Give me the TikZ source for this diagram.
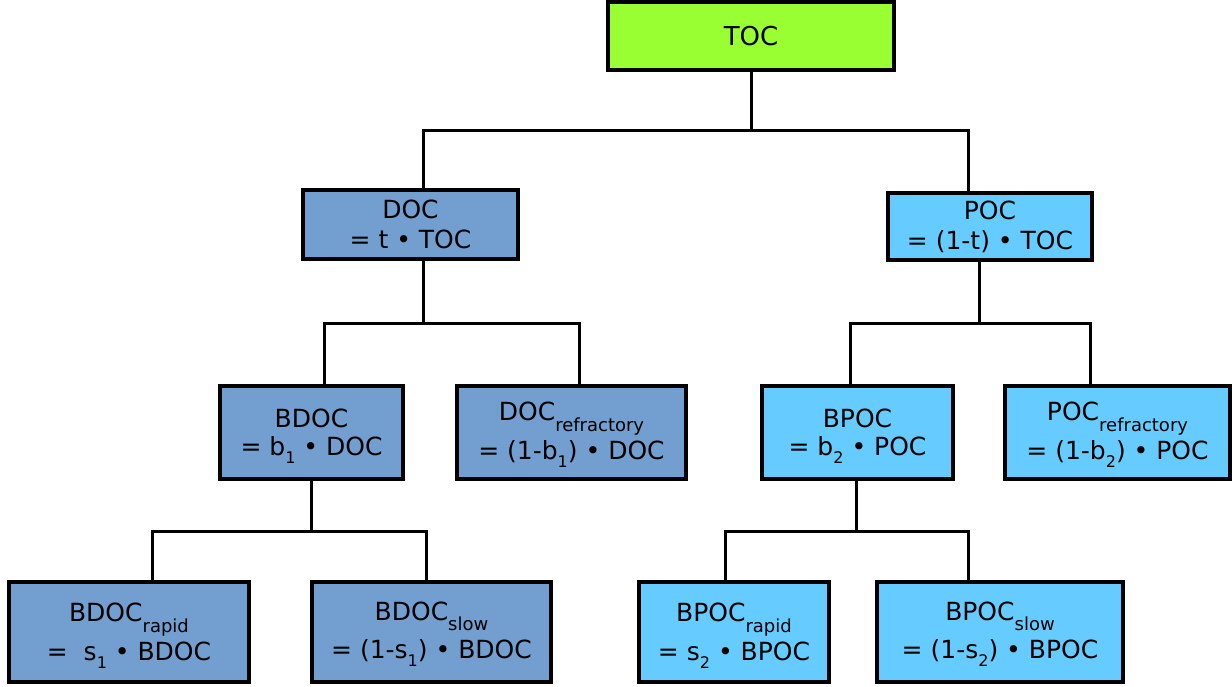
\documentclass[tikz,border=0pt]{standalone}
\usepackage{fontspec}
\setmainfont{DejaVu Sans}
\definecolor{tocgreen}{HTML}{99FF33}
\definecolor{docblue}{HTML}{729FCF}
\definecolor{pocblue}{HTML}{66CCFF}
\newcommand\lsub[1]{\smash{\raisebox{-10.5pt}{\fontsize{18}{18}\selectfont #1}}}
\newcommand\dsub[1]{\smash{\raisebox{-8pt}{\fontsize{16}{16}\selectfont #1}}}
\begin{document}
\begin{tikzpicture}[x=1pt,y=-1pt,
  box/.style={draw=black, line width=3.4pt, align=center, inner sep=0pt,
    font=\fontsize{25}{30}\selectfont},
  tocbox/.style={box, fill=tocgreen, font=\fontsize{26}{30}\selectfont},
  docbox/.style={box, fill=docblue},
  pocbox/.style={box, fill=pocblue},
  tight/.style={font=\fontsize{25}{28.5}\selectfont},
  loose/.style={font=\fontsize{25}{38.5}\selectfont},
  link/.style={draw=black, line width=3pt}]
\useasboundingbox (0,0) rectangle (1232,686);
\fill[white] (0,0) rectangle (1232,686);

\node[tocbox, minimum width=286pt, minimum height=68pt] (toc) at (751,36) {TOC};

\node[docbox, minimum width=215pt, minimum height=69pt] (doc) at (410.5,224.5) {DOC\\= t • TOC};
\node[pocbox, minimum width=204pt, minimum height=67pt] (poc) at (990,226.5) {POC\\= (1-t) • TOC};

\node[docbox, tight, minimum width=183pt, minimum height=93pt] (bdoc) at (311.5,432.5) {BDOC\\= b\dsub{1} • DOC};
\node[docbox, loose, minimum width=229pt, minimum height=93pt] (docr) at (571.5,432.5) {DOC\lsub{refractory}\\= (1-b\dsub{1}) • DOC};
\node[pocbox, tight, minimum width=191pt, minimum height=93pt] (bpoc) at (857.5,432.5) {BPOC\\= b\dsub{2} • POC};
\node[pocbox, loose, minimum width=225pt, minimum height=93pt] (pocr) at (1117.5,432.5) {POC\lsub{refractory}\\= (1-b\dsub{2}) • POC};

\node[docbox, loose, minimum width=240pt, minimum height=100pt] (bdocr) at (129,632) {BDOC\lsub{rapid}\\=~~s\dsub{1} • BDOC};
\node[docbox, loose, minimum width=239pt, minimum height=100pt] (bdocs) at (431.5,632) {BDOC\lsub{slow}\\= (1-s\dsub{1}) • BDOC};
\node[pocbox, loose, minimum width=190pt, minimum height=100pt] (bpocr) at (734,632) {BPOC\lsub{rapid}\\= s\dsub{2} • BPOC};
\node[pocbox, loose, minimum width=246pt, minimum height=100pt] (bpocs) at (1000,632) {BPOC\lsub{slow}\\= (1-s\dsub{2}) • BPOC};

\coordinate (j0) at (751,130);
\coordinate (j1) at (423,323);
\coordinate (j2) at (979,323);
\coordinate (j3) at (311.5,531);
\coordinate (j4) at (856,531);

\draw[link] (toc.south) -- (j0);
\draw[link] ([xshift=12.5pt]doc.north) |- (j0) -| ([xshift=-22pt]poc.north);

\draw[link] ([xshift=12.5pt]doc.south) -- (j1);
\draw[link] ([xshift=12.5pt]bdoc.north) |- (j1) -| ([xshift=7.5pt]docr.north);

\draw[link] ([xshift=-11pt]poc.south) -- (j2);
\draw[link] ([xshift=-7.5pt]bpoc.north) |- (j2) -| ([xshift=-27.5pt]pocr.north);

\draw[link] (bdoc.south) -- (j3);
\draw[link] ([xshift=23.5pt]bdocr.north) |- (j3) -| ([xshift=-5.5pt]bdocs.north);

\draw[link] ([xshift=-1.5pt]bpoc.south) -- (j4);
\draw[link] ([xshift=-9pt]bpocr.north) |- (j4) -| ([xshift=-32pt]bpocs.north);
\end{tikzpicture}
\end{document}
